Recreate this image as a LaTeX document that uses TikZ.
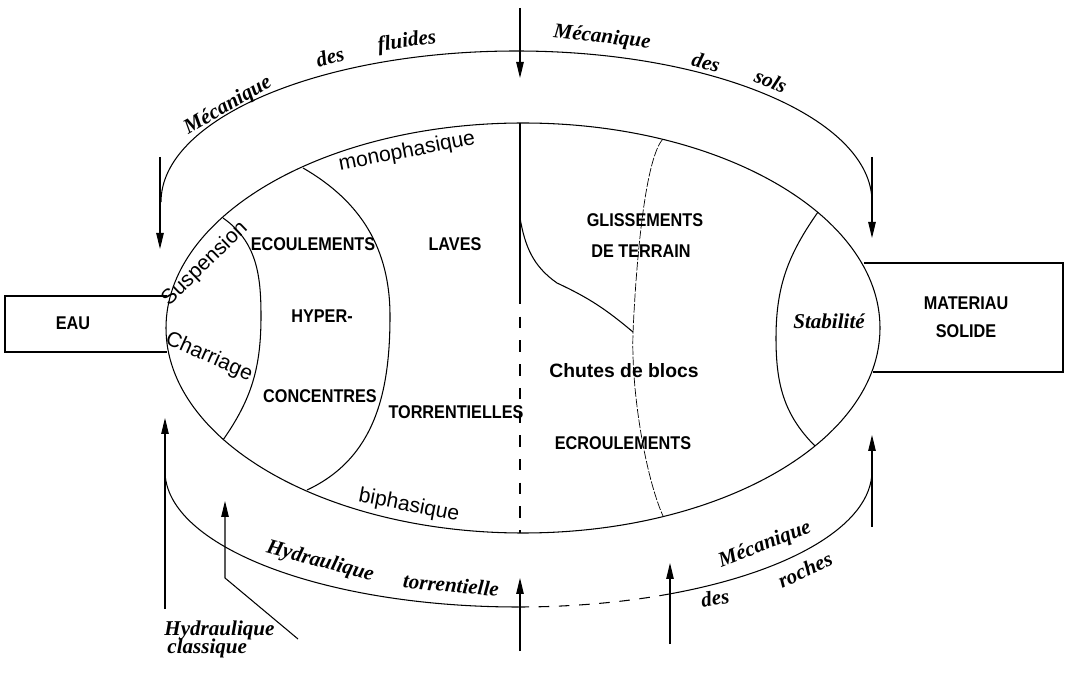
\documentclass[tikz,border=0pt]{standalone}
\usepackage{fontspec}
\setsansfont{Liberation Sans}
\newfontfamily\platefont{Liberation Sans}[FakeStretch=0.88]
\newfontfamily\handfont{Liberation Serif}
\usetikzlibrary{arrows,arrows.meta,positioning,calc}

\begin{document}
\begin{tikzpicture}[x=0.02cm,y=0.02cm,line width=0.6pt,>={Triangle[length=0.32cm,width=0.15cm]},
    capslabel/.style={font=\platefont\bfseries\fontsize{10.5}{12}\selectfont},
    thinlabel/.style={font=\sffamily\fontsize{12}{14}\selectfont,inner sep=1pt},
    hand/.style={font=\handfont\bfseries\itshape\fontsize{12}{14}\selectfont,inner sep=0.5pt},
    gap/.style={dash pattern=on 6pt off 5.5pt}]
    \useasboundingbox (0,0) rectangle (1068,683);
    \draw (523,355) ellipse[x radius=357,y radius=205];
    \draw (161,481) arc[start angle=180,end angle=0,x radius=355.5,y radius=151];
    \draw (165,212) arc[start angle=180,end angle=270,x radius=353.5,y radius=136] coordinate (lowmid);
    \draw[gap] (lowmid) arc[start angle=270,end angle=293.5,x radius=353.5,y radius=136] coordinate (lowdash);
    \draw (lowdash) arc[start angle=293.5,end angle=360,x radius=353.5,y radius=136];

    \coordinate (divtop) at (520,560);
    \coordinate (divmid) at (520,390);
    \coordinate (divbot) at (520,150);
    \draw (divtop) -- (divmid);
    \draw[dash pattern=on 6.5pt off 7pt] (divmid) -- (divbot);

    \draw (223,465) to[out=-35,in=90] (261,367) to[out=-90,in=55] (223,243);
    \draw (303,515) to[out=-30,in=90] (390,367) to[out=-90,in=25] (307,193);
    \draw (520,465) to[out=-80,in=145] (557,400) to[out=-25,in=140] (633,351);
    \draw[thin,dash pattern=on 5pt off 1pt] (663,544) .. controls (645,525) and (636,420) .. (633,350) .. controls (631,290) and (646,205) .. (663,167);
    \draw (818,471) to[out=-125,in=90] (776,345) to[out=-90,in=135] (815,237);

    \node[capslabel] (eau) at (73,360) {EAU};
    \coordinate (eaunw) at (5,387);
    \coordinate (eause) at (167,331);
    \draw (eause |- eaunw) -- (eaunw) -- (eaunw |- eause) -- (eause);
    \node[capslabel,align=center] (mat) at (966,366) {MATERIAU\\[4pt]SOLIDE};
    \coordinate (matnw) at (864,420);
    \coordinate (matne) at (1063,420);
    \coordinate (matse) at (1063,311);
    \coordinate (matsw) at (873,311);
    \draw (matnw) -- (matne) -- (matse) -- (matsw);

    \coordinate (flu0) at (160,526); \coordinate (flu1) at (160,434);
    \coordinate (sol0) at (872,526); \coordinate (sol1) at (872,445);
    \coordinate (top0) at (520,675); \coordinate (top1) at (520,605);
    \coordinate (cla0) at (165,74);  \coordinate (cla1) at (165,265);
    \coordinate (roc0) at (872,156); \coordinate (roc1) at (872,248);
    \coordinate (bot0) at (520,32);  \coordinate (bot1) at (520,105);
    \coordinate (mr0) at (670,39);   \coordinate (mr1) at (670,120);
    \coordinate (hc0) at (298,44); \coordinate (hc1) at (225,105); \coordinate (hc2) at (225,182);
    \draw[->] (flu0) -- (flu1);
    \draw[->] (sol0) -- (sol1);
    \draw[->] (top0) -- (top1);
    \draw[->] (cla0) -- (cla1);
    \draw[->] (roc0) -- (roc1);
    \draw[->] (bot0) -- (bot1);
    \draw[->] (mr0) -- (mr1);
    \draw[->] (hc0) -- (hc1) -- (hc2);

    \node[hand,rotate=30] (mfa) at (228,577) {Mécanique};
    \node[hand,rotate=16] (mfb) at (330,626) {des};
    \node[hand,rotate=8] (mfc) at (407,641) {fluides};
    \node[hand,rotate=-6] (msa) at (602,645) {Mécanique};
    \node[hand,rotate=-15] (msb) at (706,621) {des};
    \node[hand,rotate=-23] (msc) at (771,602) {sols};
    \node[thinlabel,rotate=11] (mono) at (407,531) {monophasique};
    \node[thinlabel,rotate=-11] (bi) at (409,177) {biphasique};
    \node[thinlabel,rotate=44] (susp) at (205,419) {Suspension};
    \node[thinlabel,rotate=-24] (charr) at (209,326) {Charriage};
    \node[capslabel] (ecou) at (313,439) {ECOULEMENTS};
    \node[capslabel] (laves) at (455,439) {LAVES};
    \node[capslabel] (hyper) at (322,367) {HYPER-};
    \node[capslabel] (conc) at (320,287) {CONCENTRES};
    \node[capslabel] (torr) at (456,271) {TORRENTIELLES};
    \node[capslabel] (gliss) at (645,463) {GLISSEMENTS};
    \node[capslabel] (terr) at (641,432) {DE TERRAIN};
    \node[font=\sffamily\bfseries\fontsize{11}{13}\selectfont] (chutes) at (624,312) {Chutes de blocs};
    \node[capslabel] (ecro) at (623,240) {ECROULEMENTS};
    \node[hand] (stab) at (829,362) {Stabilité};
    \node[hand,rotate=-15] (hta) at (320,121) {Hydraulique};
    \node[hand,rotate=-5] (htb) at (451,98) {torrentielle};
    \node[hand,anchor=base west] (hca) at (163,48) {Hydraulique};
    \node[hand,anchor=base west] (hcb) at (166,30) {classique};
    \node[hand,rotate=21] (mra) at (765,138) {Mécanique};
    \node[hand,rotate=25] (mrb) at (805,113) {roches};
    \node[hand,rotate=10] (mrc) at (715,85) {des};
\end{tikzpicture}
\end{document}
